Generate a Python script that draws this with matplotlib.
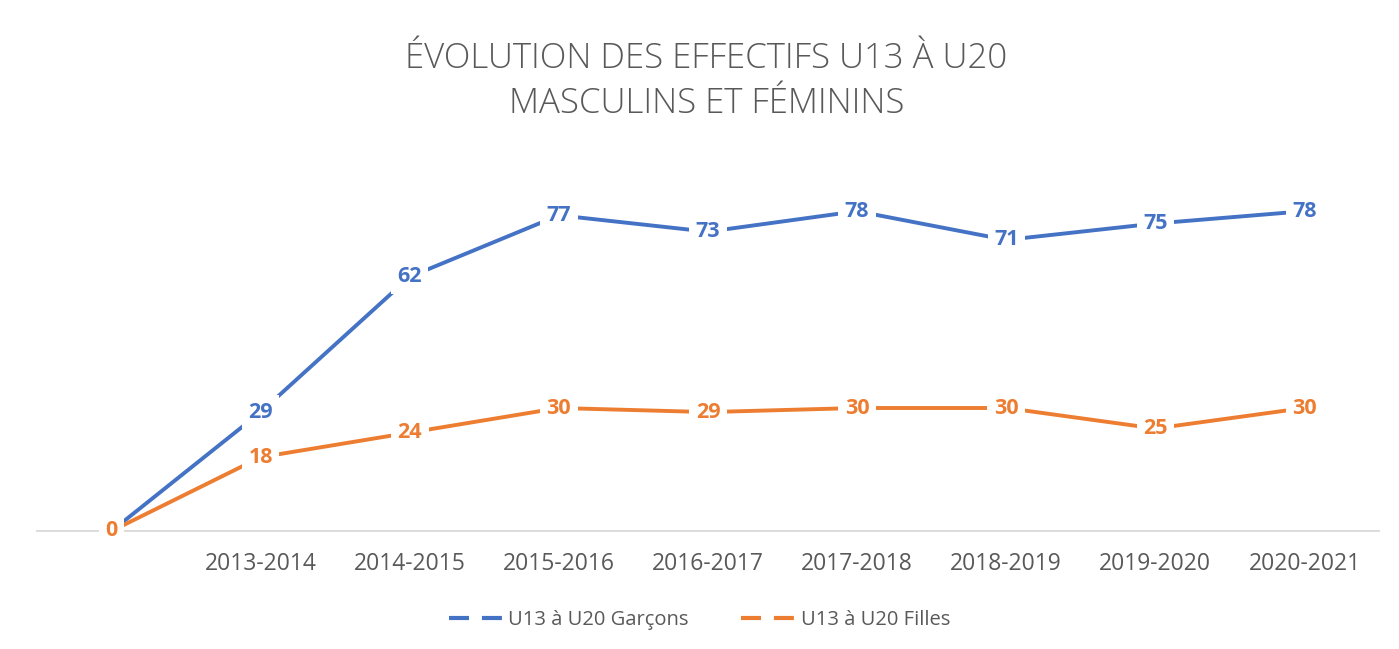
import matplotlib
matplotlib.use("Agg")
import matplotlib.pyplot as plt
from matplotlib.lines import Line2D

categories = ["", "2013-2014", "2014-2015", "2015-2016", "2016-2017",
              "2017-2018", "2018-2019", "2019-2020", "2020-2021"]
garcons = [0, 29, 62, 77, 73, 78, 71, 75, 78]
filles = [0, 18, 24, 30, 29, 30, 30, 25, 30]
series_names = ["U13 à U20 Garçons", "U13 à U20 Filles"]
title = "ÉVOLUTION DES EFFECTIFS U13 À U20\nMASCULINS ET FÉMININS"

BLUE = "#4472C4"
ORANGE = "#ED7D31"
GRAY = "#595959"
FONT = "Open Sans"

fig = plt.figure(figsize=(13.99, 6.49), dpi=100)
ax = fig.add_axes([37/1399, 118/649, (1379-37)/1399, 369/649])

x = list(range(len(categories)))
ax.plot(x, garcons, color=BLUE, lw=2.8, zorder=2, solid_capstyle="butt")
ax.plot(x, filles, color=ORANGE, lw=2.8, zorder=2, solid_capstyle="butt")

for vals, col, z in ((garcons, BLUE, 4), (filles, ORANGE, 5)):
    for xi, v in zip(x, vals):
        ax.text(xi, v, str(v), ha="center", va="center", color=col,
                fontsize=15.5, fontweight="bold", family=FONT, zorder=z,
                bbox=dict(boxstyle="square,pad=0.3", fc="white", ec="none"))

ax.set_xlim(-0.5, len(categories) - 0.5)
ax.set_ylim(0, 90)
for s in ("top", "right", "left"):
    ax.spines[s].set_visible(False)
ax.spines["bottom"].set_color("#D9D9D9")
ax.spines["bottom"].set_linewidth(1.3)
ax.spines["bottom"].set_zorder(1)
ax.set_yticks([])
ax.set_xticks(x)
ax.set_xticklabels(categories, fontsize=16.5, color=GRAY, family=FONT)
ax.tick_params(axis="x", length=0, pad=15)

fig.text(0.505, 1 - 81/649, title, ha="center", va="center", fontsize=25,
         color=GRAY, family=FONT, fontweight="light", linespacing=1.4)

handles = [Line2D([], [], color=BLUE, lw=3, ls=(0, (4.8, 3.1))),
           Line2D([], [], color=ORANGE, lw=3, ls=(0, (4.8, 3.1)))]
leg = fig.legend(handles, series_names, loc="center", bbox_to_anchor=(0.5, 1 - 620/649),
                 ncol=2, frameon=False, handlelength=2.8, handletextpad=0.15,
                 columnspacing=2.6, prop={"family": FONT, "size": 14.5})
for t in leg.get_texts():
    t.set_color(GRAY)

fig.savefig("out.png", dpi=100, facecolor="white")
